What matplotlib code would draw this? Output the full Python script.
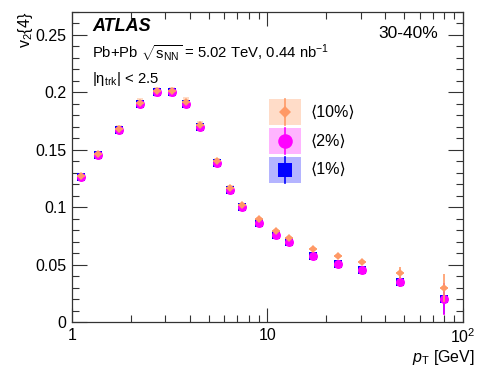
import matplotlib
matplotlib.use("Agg")
import matplotlib.pyplot as plt
import numpy as np
from matplotlib.patches import Rectangle
from matplotlib.ticker import MultipleLocator, LogLocator, FixedLocator, NullFormatter

plt.rcParams['font.family'] = ['Liberation Sans', 'DejaVu Sans']
plt.rcParams['mathtext.fontset'] = 'custom'
plt.rcParams['mathtext.rm'] = 'Liberation Sans'
plt.rcParams['mathtext.it'] = 'Liberation Sans:italic'

pt = [1.11, 1.36, 1.74, 2.23, 2.72, 3.25, 3.83, 4.52, 5.52, 6.45, 7.4, 9.05,
      11.05, 12.9, 17.1, 22.9, 30.4, 47.6, 80.0]
v1 = [0.126, 0.1455, 0.167, 0.190, 0.200, 0.200, 0.190, 0.170, 0.1385, 0.115,
      0.100, 0.086, 0.0758, 0.0697, 0.0575, 0.0505, 0.0453, 0.0348, 0.020]
v2 = [0.126, 0.1455, 0.167, 0.190, 0.200, 0.200, 0.190, 0.170, 0.1385, 0.115,
      0.100, 0.086, 0.0758, 0.0697, 0.0575, 0.0505, 0.0453, 0.0348, 0.020]
v10 = [0.127, 0.146, 0.168, 0.191, 0.201, 0.201, 0.192, 0.172, 0.140, 0.117,
       0.102, 0.0897, 0.0793, 0.073, 0.0636, 0.0575, 0.0523, 0.0427, 0.0296]
e1 = [0.001, 0.001, 0.001, 0.001, 0.001, 0.001, 0.001, 0.001, 0.001, 0.001,
      0.001, 0.001, 0.001, 0.001, 0.0012, 0.0015, 0.002, 0.004, 0.013]
e2 = [0.001, 0.001, 0.001, 0.001, 0.001, 0.001, 0.001, 0.001, 0.001, 0.001,
      0.001, 0.001, 0.001, 0.001, 0.0012, 0.0015, 0.002, 0.004, 0.014]
e10 = [0.001, 0.001, 0.001, 0.001, 0.001, 0.001, 0.001, 0.001, 0.001, 0.001,
       0.001, 0.001, 0.0015, 0.0015, 0.002, 0.002, 0.003, 0.005, 0.012]
sys_rel = [0.02] * 19

series = [
    ("⟨1%⟩", v1, e1, '#0000FF', '#B4B4FF', 's', 6),
    ("⟨2%⟩", v2, e2, '#FF00FF', '#FFB4FF', 'o', 6.5),
    ("⟨10%⟩", v10, e10, '#FF9966', '#FFDCC8', 'D', 4.2),
]

fig = plt.figure(figsize=(4.78, 3.79), dpi=100)
ax = fig.add_axes([0.1506, 0.1504, 0.818, 0.818])
ax.set_xscale('log')
ax.set_xlim(1, 100)
ax.set_ylim(0, 0.27)

for z, (lab, v, e, c, fc, m, ms) in enumerate(series):
    p = np.array(pt); vv = np.array(v)
    for xi, yi, s in zip(p, vv, sys_rel):
        h = max(yi * s, 0.0015)
        ax.add_patch(Rectangle((xi / 1.04, yi - h), xi * 1.04 - xi / 1.04, 2 * h,
                               facecolor=fc, edgecolor='none', zorder=2 + z))
    xe = [p - p / 1.05, p * 1.05 - p] if m == 'D' else None
    ax.errorbar(p, vv, yerr=e, xerr=xe, fmt=m, color=c, ms=ms, mew=0,
                elinewidth=1.2, capsize=0, zorder=5 + z)

# legend
lx = 0.545
for i, (lab, v, e, c, fc, m, ms) in enumerate(reversed(series)):
    yc = 0.677 - i * 0.093
    ax.add_patch(Rectangle((lx - 0.041, yc - 0.042), 0.082, 0.084, transform=ax.transAxes,
                           facecolor=fc, edgecolor='none', zorder=3))
    ax.plot([lx, lx], [yc - 0.042, yc + 0.042], transform=ax.transAxes, color=c, lw=1.2, zorder=4)
    msz = {'D': 6.5, 'o': 10.5, 's': 9.5}[m]
    ax.plot([lx], [yc], transform=ax.transAxes, marker=m, color=c, ms=msz, mew=0, zorder=5)
    ax.text(0.609, yc, lab, transform=ax.transAxes, fontsize=11.5, va='center', ha='left')

ax.text(0.051, 0.952, 'ATLAS', transform=ax.transAxes, fontsize=13, fontweight='bold',
        fontstyle='italic', va='center')
ax.text(0.936, 0.932, '30-40%', transform=ax.transAxes, fontsize=12.5, va='center', ha='right')
ax.text(0.051, 0.868, r'Pb+Pb $\sqrt{\mathrm{s}_{\mathrm{NN}}}$ = 5.02 TeV, 0.44 nb$^{\mathrm{-1}}$',
        transform=ax.transAxes, fontsize=10.7, va='center')
ax.text(0.051, 0.783, r'|$\mathrm{\eta}_{\mathrm{trk}}$| < 2.5', transform=ax.transAxes,
        fontsize=10.7, va='center')

ax.set_yticks([0, 0.05, 0.1, 0.15, 0.2, 0.25])
ax.set_yticklabels(['0', '0.05', '0.1', '0.15', '0.2', '0.25'])
ax.yaxis.set_minor_locator(MultipleLocator(0.01))
ax.xaxis.set_major_locator(FixedLocator([1, 10, 100]))
ax.set_xticklabels(['1', '10', r'10$^{\mathrm{2}}$'])
ax.xaxis.set_minor_locator(LogLocator(base=10, subs=np.arange(2, 10)))
ax.xaxis.set_minor_formatter(NullFormatter())
ax.tick_params(which='both', direction='in', top=True, right=True, labelsize=11.5, color='#333333')
ax.tick_params(which='major', length=10, width=0.8, pad=4)
ax.tick_params(which='minor', length=5, width=0.8)
ax.tick_params(axis='y', which='major', length=11)
for s in ax.spines.values():
    s.set_linewidth(0.9)
    s.set_color('#333333')

ax.set_xlabel(r'$p_{\mathrm{T}}$ [GeV]', fontsize=11.5, ha='right')
ax.xaxis.set_label_coords(1.031, -0.085)
ax.set_ylabel(r'v$_{\mathrm{2}}${4}', fontsize=11.5, loc='top', labelpad=0)

fig.savefig('out.png', dpi=100)
